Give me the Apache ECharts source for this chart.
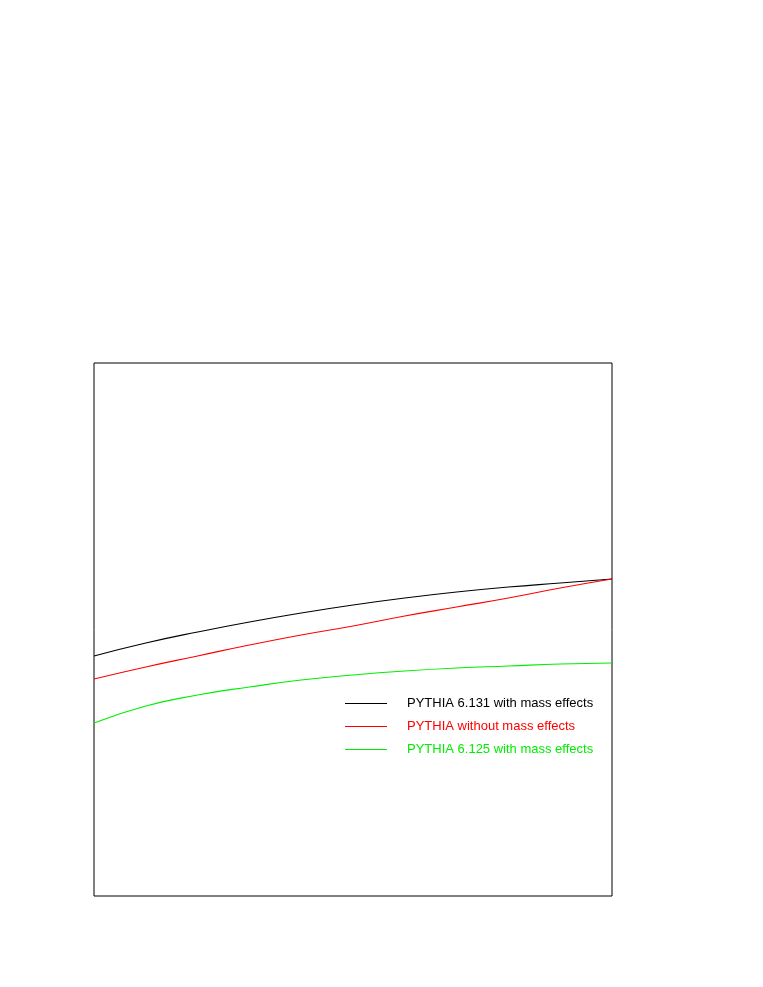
<!DOCTYPE html>
<html><head><meta charset="utf-8">
<script src="https://cdn.jsdelivr.net/npm/echarts@6/dist/echarts.min.js"></script>
<style>html,body{margin:0;padding:0;background:#fff}#c{width:763px;height:987px}</style>
</head><body><div id="c"></div>
<script>
const xs = [0,0.1,0.2,0.3,0.4,0.5,0.6,0.7,0.8,0.9,1.0];
const black = [240,253,264,274,283,291,298,304,309,313,317];
const red = [217,229,240,251,261,270,280,289,298,308,317];
const green = [173,190,201,209,216,221,225,228,230,232,233];
const names = ['PYTHIA 6.131 with mass effects','PYTHIA without mass effects','PYTHIA 6.125 with mass effects'];
const colors = ['#000000','#ff0000','#00ee00'];
const series = [black, red, green].map((d,i)=>({
  name:names[i], type:'line', smooth:true, showSymbol:false,
  data: xs.map((x,j)=>[x,d[j]]),
  lineStyle:{color:colors[i], width:1.2}, itemStyle:{color:colors[i]}
}));
const chart = echarts.init(document.getElementById('c'));
chart.setOption({
  animation:false,
  grid:{left:94, top:363, width:518, height:533, show:true, borderColor:'#000', borderWidth:1, backgroundColor:'transparent'},
  xAxis:{type:'value', min:0, max:1, axisLine:{show:false}, axisTick:{show:false}, axisLabel:{show:false}, splitLine:{show:false}},
  yAxis:{type:'value', min:0, max:533, axisLine:{show:false}, axisTick:{show:false}, axisLabel:{show:false}, splitLine:{show:false}},
  legend:{
    orient:'vertical', left:340, top:692, itemWidth:42, itemHeight:14, itemGap:10,
    icon:'path://M0,0L42,0L42,1L0,1Z',
    data: names.map((n,i)=>({name:n, textStyle:{color:colors[i]}})),
    textStyle:{fontFamily:'Liberation Sans, Arial, sans-serif', fontSize:13, padding:[0,0,0,15]}
  },
  series
});
</script></body></html>
